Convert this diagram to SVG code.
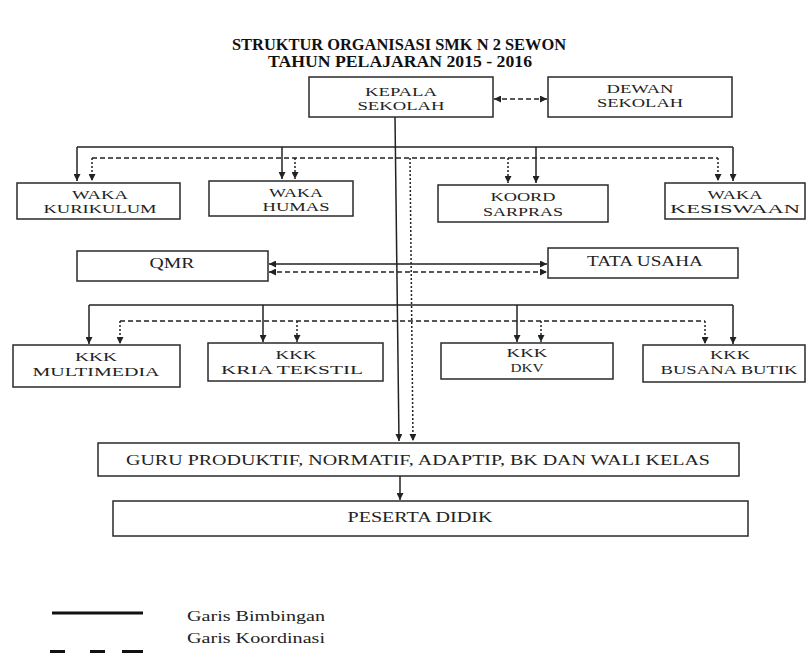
<svg xmlns="http://www.w3.org/2000/svg" width="808" height="653" viewBox="0 0 808 653">
<defs>
<style>
.bg{fill:#ffffff}
.box{fill:#ffffff;stroke:#2a2a2a;stroke-width:1.5}
.t{font-family:"Liberation Serif","Times New Roman",serif;font-size:12px;fill:#222;text-anchor:middle}
.t1{font-family:"Liberation Serif","Times New Roman",serif;font-size:14px;fill:#222;text-anchor:middle}
.title{font-family:"Liberation Serif","Times New Roman",serif;font-size:16px;font-weight:bold;fill:#111;text-anchor:middle}
.lg{font-family:"Liberation Serif","Times New Roman",serif;font-size:14px;fill:#222}
.s{fill:none;stroke:#222;stroke-width:1.5}
.d{fill:none;stroke:#222;stroke-width:1.3;stroke-dasharray:5 3}
.dt{fill:none;stroke:#222;stroke-width:1.5;stroke-dasharray:2 2}
.ae{marker-end:url(#arr)}
.ab{marker-start:url(#arr);marker-end:url(#arr)}
</style>
<marker id="arr" viewBox="0 0 10 10" refX="10" refY="5" markerWidth="7" markerHeight="7" markerUnits="userSpaceOnUse" orient="auto-start-reverse">
<path d="M0,0 L10,5 L0,10 z" fill="#222"/>
</marker>
</defs>
<rect class="bg" x="0" y="0" width="808" height="653"/>

<g id="title">
<text class="title" x="399" y="50" textLength="334" lengthAdjust="spacingAndGlyphs">STRUKTUR ORGANISASI SMK N 2 SEWON</text>
<text class="title" x="400" y="67" textLength="264" lengthAdjust="spacingAndGlyphs">TAHUN PELAJARAN 2015 - 2016</text>
</g>

<g id="connectors">
<path class="s ae" d="M395,117 L399,441"/>
<path class="s" d="M77,147 H733"/>
<path class="s ae" d="M77,147 V181"/>
<path class="s ae" d="M282,147 V179"/>
<path class="s ae" d="M536,147 V183"/>
<path class="s ae" d="M733,147 V181"/>
<path class="d" d="M92,158 H718"/>
<path class="dt ae" d="M92,158 V181"/>
<path class="dt ae" d="M295,158 V179"/>
<path class="dt ae" d="M508,158 V183"/>
<path class="dt ae" d="M718,158 V181"/>
<path class="dt ae" d="M410,158 L413,441"/>
<path class="d ab" d="M494,99 H547"/>
<path class="s ab" d="M269,264 H547"/>
<path class="d ab" d="M269,272 H547"/>
<path class="s" d="M89,305 H733"/>
<path class="s ae" d="M89,305 V344"/>
<path class="s ae" d="M263,305 V342"/>
<path class="s ae" d="M517,305 V342"/>
<path class="s ae" d="M733,305 V344"/>
<path class="d" d="M120,321 H705"/>
<path class="dt ae" d="M120,321 V344"/>
<path class="dt ae" d="M297,321 V342"/>
<path class="dt ae" d="M541,321 V342"/>
<path class="dt ae" d="M705,321 V344"/>
<path class="s ae" d="M400,476 V500"/>
</g>

<g id="kepala">
<rect class="box" x="309" y="77" width="184" height="40"/>
<text class="t" x="401" y="96" textLength="72" lengthAdjust="spacingAndGlyphs">KEPALA</text>
<text class="t" x="401" y="110" textLength="87" lengthAdjust="spacingAndGlyphs">SEKOLAH</text>
</g>
<g id="dewan">
<rect class="box" x="548" y="77" width="184" height="40"/>
<text class="t" x="640" y="93" textLength="67" lengthAdjust="spacingAndGlyphs">DEWAN</text>
<text class="t" x="640" y="107" textLength="86" lengthAdjust="spacingAndGlyphs">SEKOLAH</text>
</g>

<g id="waka-kurikulum">
<rect class="box" x="17" y="183" width="163" height="36"/>
<text class="t" x="100" y="199" textLength="56" lengthAdjust="spacingAndGlyphs">WAKA</text>
<text class="t" x="100" y="213" textLength="113" lengthAdjust="spacingAndGlyphs">KURIKULUM</text>
</g>
<g id="waka-humas">
<rect class="box" x="209" y="181" width="144" height="35"/>
<text class="t" x="296" y="197" textLength="54" lengthAdjust="spacingAndGlyphs">WAKA</text>
<text class="t" x="296" y="211" textLength="67" lengthAdjust="spacingAndGlyphs">HUMAS</text>
</g>
<g id="koord-sarpras">
<rect class="box" x="438" y="185" width="170" height="37"/>
<text class="t" x="523" y="201" textLength="65" lengthAdjust="spacingAndGlyphs">KOORD</text>
<text class="t" x="523" y="216" textLength="80" lengthAdjust="spacingAndGlyphs">SARPRAS</text>
</g>
<g id="waka-kesiswaan">
<rect class="box" x="665" y="183" width="140" height="36"/>
<text class="t" x="735" y="199" textLength="55" lengthAdjust="spacingAndGlyphs">WAKA</text>
<text class="t" x="735" y="213" textLength="130" lengthAdjust="spacingAndGlyphs">KESISWAAN</text>
</g>

<g id="qmr">
<rect class="box" x="77" y="251" width="191" height="30"/>
<text class="t1" x="172" y="268" textLength="45" lengthAdjust="spacingAndGlyphs">QMR</text>
</g>
<g id="tata-usaha">
<rect class="box" x="548" y="248" width="190" height="30"/>
<text class="t1" x="645" y="266" textLength="116" lengthAdjust="spacingAndGlyphs">TATA USAHA</text>
</g>

<g id="kkk-multimedia">
<rect class="box" x="13" y="345" width="167" height="42"/>
<text class="t" x="96" y="361" textLength="42" lengthAdjust="spacingAndGlyphs">KKK</text>
<text class="t" x="96" y="376" textLength="127" lengthAdjust="spacingAndGlyphs">MULTIMEDIA</text>
</g>
<g id="kkk-kria-tekstil">
<rect class="box" x="208" y="343" width="175" height="38"/>
<text class="t" x="296" y="359" textLength="41" lengthAdjust="spacingAndGlyphs">KKK</text>
<text class="t" x="292" y="374" textLength="142" lengthAdjust="spacingAndGlyphs">KRIA TEKSTIL</text>
</g>
<g id="kkk-dkv">
<rect class="box" x="441" y="343" width="172" height="36"/>
<text class="t" x="527" y="357" textLength="41" lengthAdjust="spacingAndGlyphs">KKK</text>
<text class="t" x="527" y="372" textLength="33" lengthAdjust="spacingAndGlyphs">DKV</text>
</g>
<g id="kkk-busana-butik">
<rect class="box" x="643" y="345" width="162" height="37"/>
<text class="t" x="730" y="359" textLength="40" lengthAdjust="spacingAndGlyphs">KKK</text>
<text class="t" x="729" y="374" textLength="137" lengthAdjust="spacingAndGlyphs">BUSANA BUTIK</text>
</g>

<g id="guru">
<rect class="box" x="98" y="443" width="641" height="33"/>
<text class="t1" x="418" y="465" textLength="584" lengthAdjust="spacingAndGlyphs">GURU PRODUKTIF, NORMATIF, ADAPTIP, BK DAN WALI KELAS</text>
</g>
<g id="peserta-didik">
<rect class="box" x="113" y="501" width="635" height="35"/>
<text class="t1" x="420" y="522" textLength="145" lengthAdjust="spacingAndGlyphs">PESERTA DIDIK</text>
</g>

<g id="legend">
<line x1="52" y1="613" x2="143" y2="613" stroke="#111" stroke-width="3"/>
<text class="lg" x="187" y="621" textLength="138" lengthAdjust="spacingAndGlyphs">Garis Bimbingan</text>
<text class="lg" x="187" y="643" textLength="138" lengthAdjust="spacingAndGlyphs">Garis Koordinasi</text>
<line x1="50" y1="652" x2="65" y2="652" stroke="#111" stroke-width="4"/>
<line x1="90" y1="652" x2="105" y2="652" stroke="#111" stroke-width="4"/>
<line x1="122" y1="652" x2="143" y2="652" stroke="#111" stroke-width="4"/>
</g>
</svg>
